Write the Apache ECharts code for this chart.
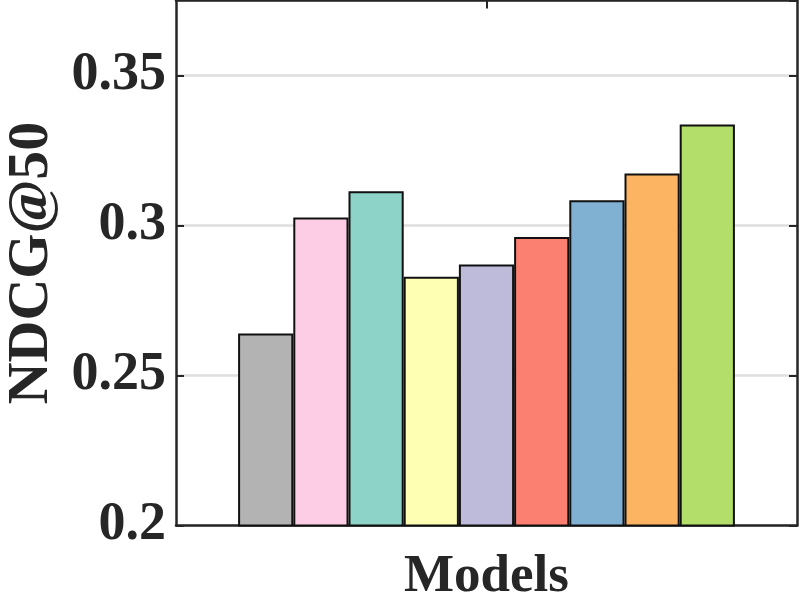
<!DOCTYPE html>
<html><head><meta charset="utf-8">
<script src="https://cdn.jsdelivr.net/npm/echarts@6/dist/echarts.min.js"></script>
<style>html,body{margin:0;padding:0;background:#fff}#c{width:800px;height:600px}</style>
</head><body><div id="c"></div>
<script>
const categories = ['Models'];
const modelNames = ['Model 1','Model 2','Model 3','Model 4','Model 5','Model 6','Model 7','Model 8','Model 9'];
const ndcgValues = [0.2640, 0.3027, 0.3114, 0.2829, 0.2870, 0.2962, 0.3084, 0.3173, 0.3337];
const barColors = ['#b3b3b3','#fccde5','#8dd3c7','#ffffb3','#bebada','#fb8072','#80b1d3','#fdb462','#b3de69'];
const yTicks = [0.2, 0.25, 0.3, 0.35];

const font = 'Liberation Serif, Times New Roman, serif';
const axisColor = '#262626';
const chart = echarts.init(document.getElementById('c'));
const series = modelNames.map((n, i) => ({
  name: n, type: 'bar', xAxisIndex: 0, yAxisIndex: 0,
  data: [ndcgValues[i]],
  barGap: '0%', barCategoryGap: '20%',
  itemStyle: { color: barColors[i], borderColor: '#111', borderWidth: 2 }
}));
chart.setOption({
  animation: false,
  grid: { left: 176, right: 3, top: 0.5, bottom: 74.5, containLabel: false, outerBoundsMode: 'none' },
  xAxis: [{
    type: 'category', data: categories, position: 'bottom',
    name: 'Models', nameLocation: 'middle', nameGap: 25,
    nameTextStyle: { fontFamily: font, fontWeight: 'bold', fontSize: 53, color: axisColor },
    axisLine: { show: true, lineStyle: { color: axisColor, width: 2.5 } },
    axisTick: { show: true, inside: true, alignWithLabel: true, length: 8, lineStyle: { color: axisColor, width: 2 } },
    axisLabel: { show: false }
  }, {
    type: 'category', data: categories, position: 'top',
    axisLine: { show: true, lineStyle: { color: axisColor, width: 2.5 } },
    axisTick: { show: true, inside: true, alignWithLabel: true, length: 8, lineStyle: { color: axisColor, width: 2 } },
    axisLabel: { show: false }
  }],
  yAxis: [{
    type: 'value', min: 0.2, max: 0.375, interval: 0.05, position: 'left',
    name: 'NDCG@50', nameLocation: 'middle', nameGap: 110,
    nameTextStyle: { fontFamily: font, fontWeight: 'bold', fontSize: 58, color: axisColor },
    axisLine: { show: true, lineStyle: { color: axisColor, width: 2.5 } },
    axisTick: { show: true, inside: true, length: 8, lineStyle: { color: axisColor, width: 2 } },
    axisLabel: { showMaxLabel: false, margin: 10, fontFamily: font, fontWeight: 'bold', fontSize: 54, color: axisColor,
      formatter: v => { const t = yTicks.find(x => Math.abs(x - v) < 1e-9); return t === undefined ? '' : String(t); } },
    splitLine: { show: true, lineStyle: { color: '#dedede', width: 2.5 } }
  }, {
    type: 'value', min: 0.2, max: 0.375, interval: 0.05, position: 'right',
    axisLine: { show: true, lineStyle: { color: axisColor, width: 2.5 } },
    axisTick: { show: true, inside: true, length: 8, lineStyle: { color: axisColor, width: 2 } },
    axisLabel: { show: false }, splitLine: { show: false }
  }],
  series: series
});
</script></body></html>
